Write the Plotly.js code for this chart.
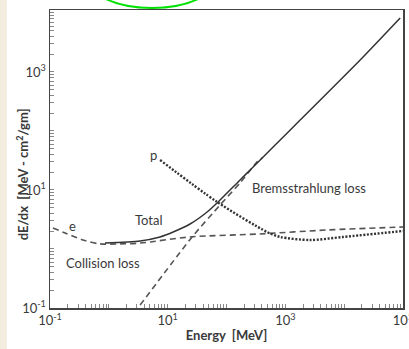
<!DOCTYPE html>
<html><head><meta charset="utf-8">
<script src="https://cdn.plot.ly/plotly-3.0.1.min.js"></script>
<style>html,body{margin:0;padding:0;background:#fff}#chart{width:409px;height:349px}</style>
</head><body><div id="chart"></div>
<script>
// Energy (MeV) and dE/dx (MeV cm^2/gm)
const totalE   = [0.86, 3.4, 7.4, 12.4, 24, 46.8, 72, 170, 252, 671, 1786, 18700, 89500];
const totalY   = [1.26, 1.37, 1.6, 1.94, 2.65, 4.24, 6.27, 14.8, 21.8, 57.9, 153, 1596, 8220];
const bremsE   = [3.4, 26, 77.8, 170, 331, 403];
const bremsY   = [0.112, 1.6, 5.57, 13.2, 29.9, 34.8];
const collE    = [0.112, 0.18, 0.364, 0.708, 1.55, 3.4, 24, 372, 5140, 100700];
const collY    = [2.27, 1.87, 1.42, 1.22, 1.22, 1.26, 1.6, 1.8, 2.1, 2.36];
const protonE  = [7.43, 69.2, 490, 817, 2640, 9620, 100700];
const protonY  = [32.2, 6.27, 1.94, 1.6, 1.42, 1.6, 2.02];
const xDecades = [0.1, 1, 10, 100, 1000, 1e4, 1e5];
const xDecadeText = ["10<sup>-1</sup>", "", "10<sup>1</sup>", "", "10<sup>3</sup>", "", "10<sup>5</sup>"];
const yDecades = [0.1, 1, 10, 100, 1000, 1e4];
const yDecadeText = ["10<sup>-1</sup>", "", "10<sup>1</sup>", "", "10<sup>3</sup>", ""];

// decade ticks plus unlabeled 2..9 ticks in each decade
function tickSet(decades, texts) {
  const vals = [], txt = [];
  decades.forEach((d, i) => {
    vals.push(d); txt.push(texts[i]);
    for (let m = 2; m <= 9; m++) { vals.push(m * d); txt.push(''); }
  });
  return {vals, txt};
}
const xt = tickSet(xDecades, xDecadeText);
const yt = tickSet(yDecades, yDecadeText);

const ink = '#3a3a3a';
const traces = [
  {x: bremsE, y: bremsY, mode: 'lines', line: {color: '#555', width: 1.6, dash: '6px,4px', shape: 'spline', smoothing: 0.6}},
  {x: collE, y: collY, mode: 'lines', line: {color: '#555', width: 1.6, dash: '6px,4px', shape: 'spline', smoothing: 0.8}},
  {x: protonE, y: protonY, mode: 'lines', line: {color: '#333', width: 2.4, dash: '2px,1.6px', shape: 'spline', smoothing: 0.8}},
  {x: totalE, y: totalY, mode: 'lines', line: {color: '#333', width: 1.5, shape: 'spline', smoothing: 0.7}}
];

const fam = 'Lato, "Open Sans", sans-serif';
const font = {family: fam, size: 13, color: ink};
const axisCommon = {
  type: 'log', showgrid: false, zeroline: false, showline: true, mirror: true,
  linecolor: '#444', linewidth: 1.5, ticks: 'inside', ticklen: 4, tickwidth: 1,
  tickcolor: '#888', tickmode: 'array', ticklabeloverflow: 'allow',
  tickfont: {family: fam, size: 13, color: ink}
};

const layout = {
  width: 409, height: 349,
  margin: {l: 50, r: 6, t: 10, b: 41},
  paper_bgcolor: '#fff', plot_bgcolor: '#fff',
  showlegend: false, font: font,
  xaxis: Object.assign({}, axisCommon, {
    range: [-1, 5], tickvals: xt.vals, ticktext: xt.txt,
    title: {text: 'Energy  [MeV]', font: {family: fam, size: 13, color: ink, weight: 'bold'}, standoff: 4}
  }),
  yaxis: Object.assign({}, axisCommon, {
    range: [-1, 4.05], tickvals: yt.vals, ticktext: yt.txt
  }),
  annotations: [
    {xref: 'paper', yref: 'paper', x: -0.078, y: 0.45, xanchor: 'center', yanchor: 'middle',
     text: 'dE/dx  [MeV - cm<sup>2</sup>/gm]', textangle: -90,
     showarrow: false, font: {family: fam, size: 13, color: ink, weight: 'bold'}},
    {x: 0.684, y: 0.492, text: 'Total', showarrow: false, font: font},
    {x: -0.626, y: 0.39, text: 'e', showarrow: false, font: font},
    {x: -0.099, y: -0.237, text: 'Collision loss', showarrow: false, font: font},
    {x: 3.396, y: 1.034, text: 'Bremsstrahlung loss', showarrow: false, font: font},
    {x: 0.752, y: 1.593, text: 'p', showarrow: false, font: font}
  ],
  shapes: [
    {type: 'rect', xref: 'paper', yref: 'paper', x0: -0.1416, x1: -0.122, y0: -0.14, y1: 1.04,
     fillcolor: '#f3ede0', line: {width: 0}, layer: 'below'},
    {type: 'circle', xref: 'paper', yref: 'paper', x0: 0.105, x1: 0.473, y0: 1.0067, y1: 1.21,
     line: {color: 'rgb(0,225,0)', width: 2}}
  ]
};

Plotly.newPlot('chart', traces, layout, {staticPlot: true, displayModeBar: false});
</script>
</body></html>
